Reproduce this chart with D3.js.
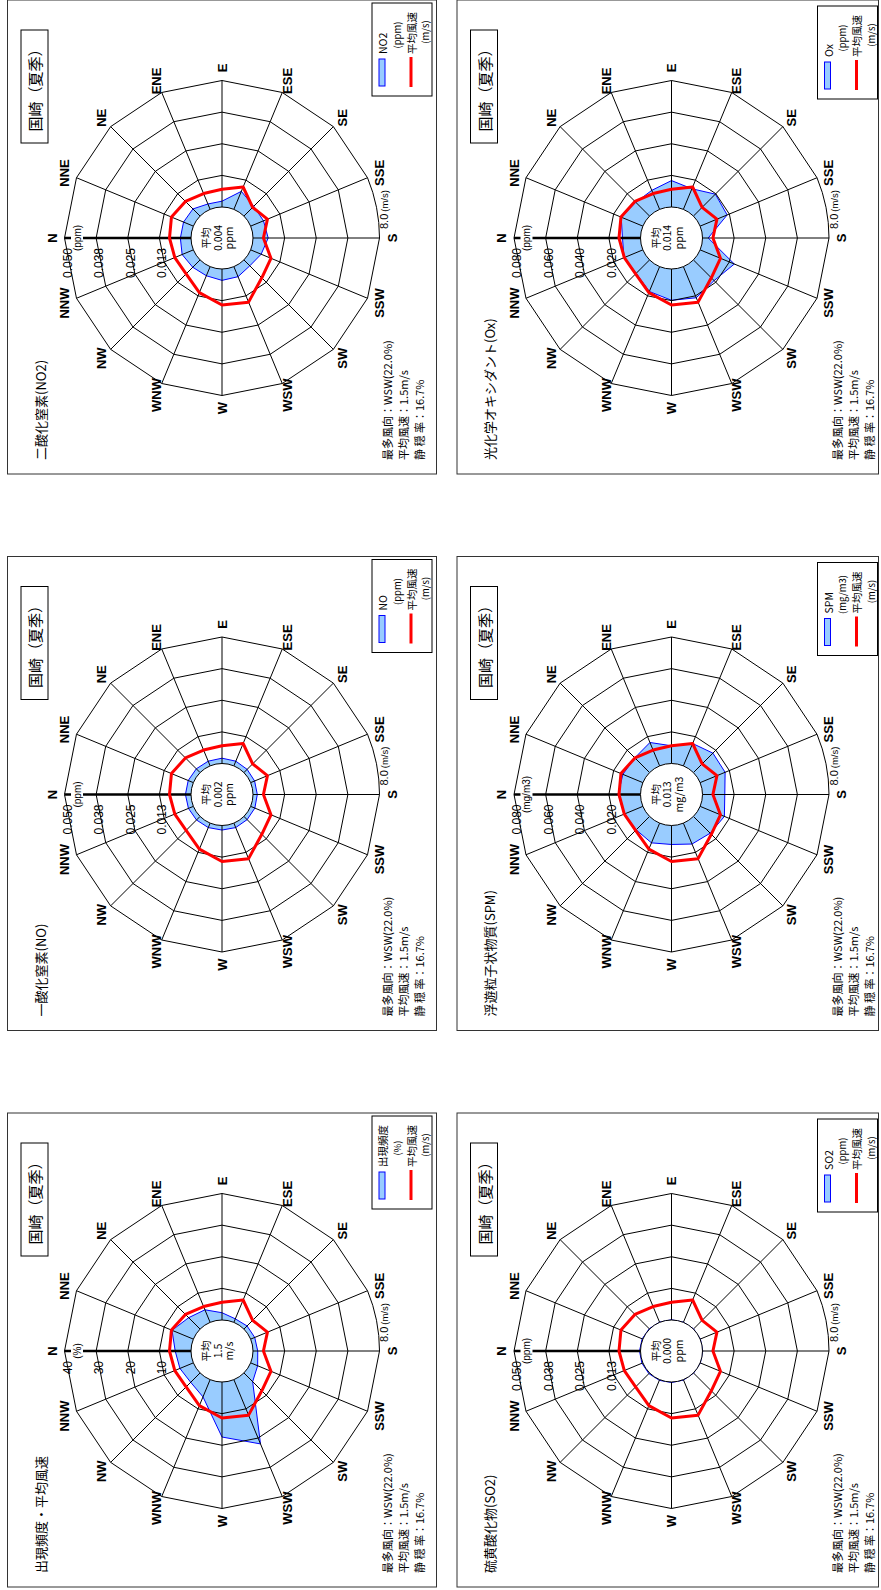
<!DOCTYPE html>
<html>
<head>
<meta charset="utf-8">
<script src="https://cdn.jsdelivr.net/npm/d3@7"></script>
<style>
  body { margin: 0; background: #fff; }
  text { font-family: "Liberation Sans", Arial, "Noto Sans CJK JP", sans-serif; fill: #000; }
  .jp { font-family: "Noto Sans CJK JP", "Liberation Sans", sans-serif; }
</style>
</head>
<body>
<svg id="chart"></svg>
<script>
const WIDTH = 881, HEIGHT = 1590;

// 16 wind directions, clockwise from N
const DIRS = ["N","NNE","NE","ENE","E","ESE","SE","SSE","S","SSW","SW","WSW","W","WNW","NW","NNW"];

// appearance frequency (%) and mean wind speed (m/s)
const FREQ  = [5.0, 7.3, 5.1, 4.3, 2.3, 1.2, 1.4, 1.4, 1.5, 2.4, 3.9, 22.0, 17.4, 5.9, 4.2, 4.6];
const SPEED = [1.36, 1.50, 1.31, 1.08, 1.12, 1.53, 0.78, 1.15, 0.66, 1.39, 1.60, 2.43, 2.28, 1.78, 1.25, 1.27];

// pollutant means by direction
const NO   = [0.0022, 0.0022, 0.0021, 0.0020, 0.0021, 0.0020, 0.0018, 0.0017, 0.0017, 0.0018, 0.0018, 0.0019, 0.0018, 0.0019, 0.0020, 0.0021];
const NO2  = [0.0042, 0.0042, 0.0040, 0.0023, 0.0023, 0.0077, 0.0055, 0.0055, 0.0060, 0.0045, 0.0033, 0.0043, 0.0045, 0.0039, 0.0041, 0.0048];
const SO2  = [0.0004, 0.0003, 0.0002, 0.0001, 0.0001, 0.0001, 0.0001, 0.0001, 0.0001, 0.0001, 0.0001, 0.0002, 0.0002, 0.0003, 0.0004, 0.0004];
const SPM  = [0.0141, 0.0137, 0.0132, 0.0160, 0.0112, 0.0153, 0.0174, 0.0171, 0.0141, 0.0166, 0.0150, 0.0143, 0.0120, 0.0135, 0.0120, 0.0127];
const OX   = [0.0114, 0.0148, 0.0123, 0.0130, 0.0167, 0.0141, 0.0196, 0.0185, 0.0036, 0.0234, 0.0185, 0.0213, 0.0198, 0.0170, 0.0120, 0.0129];

// ring tick labels
const TICKS_PCT = ["10", "20", "30", "40"];
const TICKS_050 = ["0.013", "0.025", "0.038", "0.050"];
const TICKS_080 = ["0.020", "0.040", "0.060", "0.080"];

const STATION = "国崎（夏季）";
const STATS = ["最多風向：WSW(22.0%)", "平均風速：1.5m/s", "静 穏 率：16.7%"];
const SPEED_MAX = 8.0;

const panels = [
  { title: "出現頻度・平均風速", name: "出現頻度", unit: "(%)", max: 40, ticks: TICKS_PCT, values: FREQ, avg: "1.5", avgUnit: "m/s", col: 0, row: 0 },
  { title: "一酸化窒素(NO)", name: "NO", unit: "(ppm)", max: 0.05, ticks: TICKS_050, values: NO, avg: "0.002", avgUnit: "ppm", col: 1, row: 0 },
  { title: "二酸化窒素(NO2)", name: "NO2", unit: "(ppm)", max: 0.05, ticks: TICKS_050, values: NO2, avg: "0.004", avgUnit: "ppm", col: 2, row: 0 },
  { title: "硫黄酸化物(SO2)", name: "SO2", unit: "(ppm)", max: 0.05, ticks: TICKS_050, values: SO2, avg: "0.000", avgUnit: "ppm", col: 0, row: 1 },
  { title: "浮遊粒子状物質(SPM)", name: "SPM", unit: "(mg/m3)", max: 0.08, ticks: TICKS_080, values: SPM, avg: "0.013", avgUnit: "mg/m3", col: 1, row: 1 },
  { title: "光化学オキシダント(Ox)", name: "Ox", unit: "(ppm)", max: 0.08, ticks: TICKS_080, values: OX, avg: "0.014", avgUnit: "ppm", col: 2, row: 1 }
];

const R0 = 31, R = 157.5;
const COL_X = [239, 795.5, 1352];
const ROW_Y = [222, 671.5];

const svg = d3.select("#chart").attr("width", WIDTH).attr("height", HEIGHT);
// the sheet is printed in landscape and turned a quarter turn to the left
const page = svg.append("g").attr("transform", `translate(0, ${HEIGHT}) rotate(-90)`);

const angle = d3.scaleLinear().domain([0, 16]).range([0, 2 * Math.PI]);
const rSpeed = d3.scaleLinear().domain([0, SPEED_MAX]).range([R0, R]);
const ringR = d3.range(1, 5).map(k => R0 + k * (R - R0) / 4);

function xy(i, r) {
  const a = angle(i);
  return [r * Math.sin(a), -r * Math.cos(a)];
}

panels.forEach(p => {
  const g = page.append("g").attr("transform", `translate(${COL_X[p.col]}, ${ROW_Y[p.row]})`);
  const r = d3.scaleLinear().domain([0, p.max]).range([R0, R]);

  const right = p.row === 1 ? 207 : 214.5;
  g.append("rect")
    .attr("x", -236).attr("y", -214.5)
    .attr("width", 474).attr("height", 214.5 + right)
    .attr("fill", "none").attr("stroke", "#333").attr("stroke-width", 1);

  const radial = d3.lineRadial()
    .angle((d, i) => angle(i))
    .curve(d3.curveLinearClosed);

  // concentration / frequency polygon
  g.append("path")
    .attr("d", radial.radius(d => r(d))(p.values))
    .attr("fill", "#99ccff").attr("stroke", "#0000ff").attr("stroke-width", 1);

  // rings (outer ring has an arc between SSE and S)
  ringR.slice(0, 3).forEach(rr => {
    g.append("path")
      .attr("d", radial.radius(rr)(DIRS))
      .attr("fill", "none").attr("stroke", "#000").attr("stroke-width", 1);
  });
  const outer = d3.path();
  const s0 = xy(8, R);
  outer.moveTo(s0[0], s0[1]);
  for (let i = 9; i <= 23; i++) {
    const pt = xy(i % 16, R);
    outer.lineTo(pt[0], pt[1]);
  }
  outer.arc(0, 0, R, angle(7) - Math.PI / 2, angle(8) - Math.PI / 2, false);
  g.append("path").attr("d", outer.toString())
    .attr("fill", "none").attr("stroke", "#000").attr("stroke-width", 1);

  // spokes
  DIRS.forEach((d, i) => {
    const a = xy(i, R0), b = xy(i, R);
    g.append("line")
      .attr("x1", a[0]).attr("y1", a[1]).attr("x2", b[0]).attr("y2", b[1])
      .attr("stroke", "#000").attr("stroke-width", i === 0 ? 2.5 : 1);
  });

  // unit label on the N axis
  g.append("rect").attr("x", -16).attr("y", -151).attr("width", 32).attr("height", 12).attr("fill", "#fff");
  g.append("text").attr("x", 0).attr("y", -145)
    .attr("text-anchor", "middle").attr("dominant-baseline", "central")
    .attr("font-size", 10).text(p.unit);

  // ring values
  p.ticks.forEach((t, k) => {
    g.append("text").attr("x", -10).attr("y", -ringR[k] + 3)
      .attr("text-anchor", "end").attr("dominant-baseline", "central")
      .attr("font-size", 12).text(t);
  });

  // inner circle
  g.append("circle").attr("r", R0).attr("fill", "#fff").attr("stroke", "#000").attr("stroke-width", 1);
  [["平均", -16.5], [p.avg, -5], [p.avgUnit, 6.8]].forEach(([t, y]) => {
    g.append("text").attr("class", "jp").attr("x", 0).attr("y", y)
      .attr("text-anchor", "middle").attr("dominant-baseline", "central")
      .attr("font-size", 10.5).text(t);
  });

  // mean wind speed
  g.append("path")
    .attr("d", radial.radius(d => rSpeed(d))(SPEED))
    .attr("fill", "none").attr("stroke", "#ff0000").attr("stroke-width", 3)
    .attr("stroke-linejoin", "round");

  // speed scale label
  g.append("text").attr("x", 9).attr("y", 166)
    .attr("font-size", 11).text("8.0")
    .append("tspan").attr("font-size", 9.5).attr("dx", 2).text("(m/s)");

  // direction labels
  DIRS.forEach((d, i) => {
    const pt = xy(i, 170);
    g.append("text").attr("x", pt[0]).attr("y", pt[1])
      .attr("text-anchor", "middle").attr("dominant-baseline", "central")
      .attr("font-size", 13).attr("font-weight", "bold").text(d);
  });

  // station box
  g.append("rect").attr("x", 95).attr("y", -201).attr("width", 113).attr("height", 27)
    .attr("fill", "#fff").attr("stroke", "#000").attr("stroke-width", 1);
  g.append("text").attr("class", "jp").attr("x", 151.5).attr("y", -187.5)
    .attr("text-anchor", "middle").attr("dominant-baseline", "central")
    .attr("font-size", 15).text(STATION);

  // title
  g.append("text").attr("class", "jp").attr("x", -222).attr("y", -182)
    .attr("dominant-baseline", "central").attr("font-size", 13).text(p.title);

  // stats
  STATS.forEach((s, k) => {
    g.append("text").attr("class", "jp").attr("x", -222).attr("y", 165 + k * 16)
      .attr("dominant-baseline", "central").attr("font-size", 11).text(s);
  });

  // legend
  const lx = p.row === 1 ? 139 : 142;
  const lg = g.append("g").attr("transform", `translate(0, ${p.row === 1 ? -4 : 0})`);
  lg.append("rect").attr("x", lx).attr("y", 150).attr("width", 93).attr("height", 60)
    .attr("fill", "#fff").attr("stroke", "#000").attr("stroke-width", 1);
  lg.append("rect").attr("x", lx + 10).attr("y", 157).attr("width", 27).attr("height", 6)
    .attr("fill", "#99ccff").attr("stroke", "#0000ff").attr("stroke-width", 1);
  lg.append("text").attr("class", "jp").attr("x", lx + 42).attr("y", 160.5)
    .attr("dominant-baseline", "central").attr("font-size", 10.5).text(p.name);
  lg.append("text").attr("class", "jp").attr("x", lx + 61).attr("y", 174.5)
    .attr("text-anchor", "middle").attr("dominant-baseline", "central").attr("font-size", 9.5).text(p.unit);
  lg.append("line").attr("x1", lx + 9).attr("x2", lx + 39).attr("y1", 189).attr("y2", 189)
    .attr("stroke", "#ff0000").attr("stroke-width", 3);
  lg.append("text").attr("class", "jp").attr("x", lx + 42).attr("y", 189)
    .attr("dominant-baseline", "central").attr("font-size", 10.5).text("平均風速");
  lg.append("text").attr("class", "jp").attr("x", lx + 64).attr("y", 203)
    .attr("text-anchor", "middle").attr("dominant-baseline", "central").attr("font-size", 9.5).text("(m/s)");
});
</script>
</body>
</html>
